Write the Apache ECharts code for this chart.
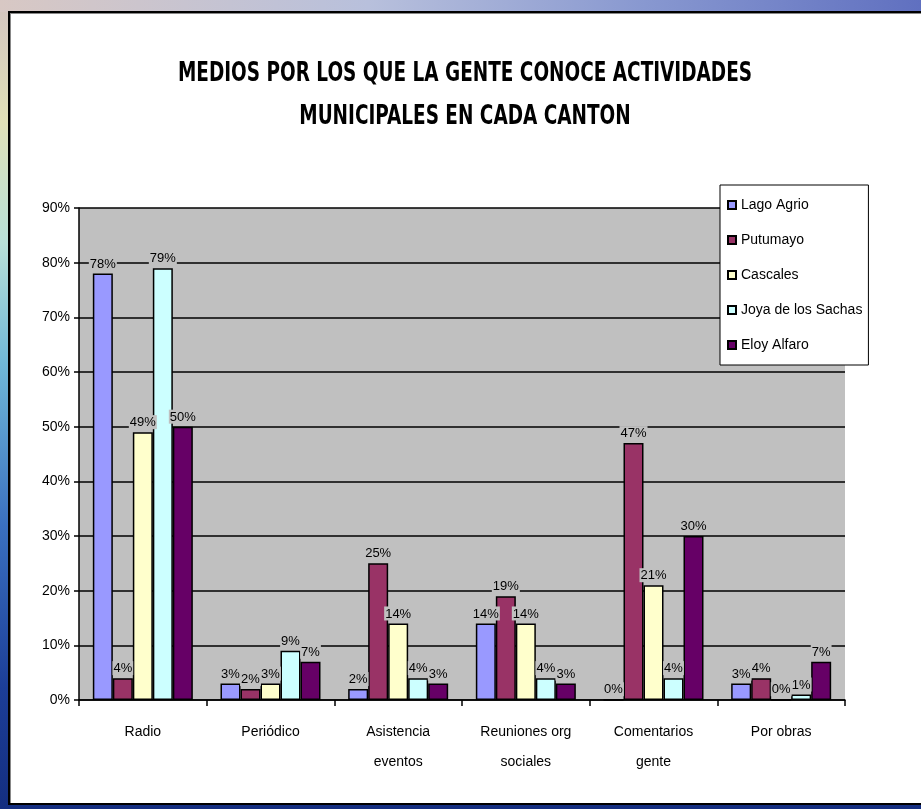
<!DOCTYPE html>
<html>
<head>
<meta charset="utf-8">
<script src="https://cdn.jsdelivr.net/npm/echarts@6/dist/echarts.min.js"></script>
<style>
html,body{margin:0;padding:0;width:921px;height:809px;overflow:hidden;}
body{background:linear-gradient(180deg,#d4c4c0 0%,#e0e0b8 15%,#b8e0d8 30%,#70b8d8 45%,#3a70c0 65%,#1c3e98 85%,#142e80 100%);position:relative;}
#top{position:absolute;left:0;top:0;width:921px;height:12px;background:linear-gradient(90deg,#d8c8c4 0%,#b8c0dc 40%,#8898d0 70%,#6070c0 100%);}
#frame{position:absolute;left:8px;top:11px;width:940px;height:794px;background:#fff;border:2px solid #000;box-sizing:border-box;box-shadow:inset 1px 1px 0 #888;}
#chart{position:absolute;left:0;top:0;width:921px;height:809px;}
</style>
</head>
<body>
<div id="top"></div>
<div id="frame"></div>
<div id="chart"></div>
<script>
const titleLines = ["MEDIOS POR LOS QUE LA GENTE CONOCE ACTIVIDADES", "MUNICIPALES EN CADA CANTON"];
const categories = ["Radio", "Periódico", "Asistencia\neventos", "Reuniones org\nsociales", "Comentarios\ngente", "Por obras"];
const seriesNames = ["Lago Agrio", "Putumayo", "Cascales", "Joya de los Sachas", "Eloy Alfaro"];
const lagoAgrio = [78, 3, 2, 14, 0, 3];
const putumayo = [4, 2, 25, 19, 47, 4];
const cascales = [49, 3, 14, 14, 21, 0];
const joyaSachas = [79, 9, 4, 4, 4, 1];
const eloyAlfaro = [50, 7, 3, 3, 30, 7];
const yTicks = [0, 10, 20, 30, 40, 50, 60, 70, 80, 90];
const colors = ["#9999FF", "#993366", "#FFFFCC", "#CCFFFF", "#660066"];
const seriesData = [lagoAgrio, putumayo, cascales, joyaSachas, eloyAlfaro];

const chart = echarts.init(document.getElementById('chart'), null, {renderer: 'canvas'});
const font = "'Liberation Sans', Arial, sans-serif";
const titleFont = "bold 27px 'DejaVu Sans Condensed', 'DejaVu Sans', sans-serif";
chart.setOption({
  animation: false,
  graphic: titleLines.map((t, i) => ({
    type: 'text', x: 465, y: 74 + i * 43, scaleX: 0.76, z: 10,
    style: {text: t, font: titleFont, fill: '#000', textAlign: 'center', textVerticalAlign: 'middle'}
  })),
  legend: {
    orient: 'vertical', left: 720, top: 185,
    backgroundColor: '#fff', borderColor: '#000', borderWidth: 1,
    padding: [13, 6, 13, 7],
    itemWidth: 8, itemHeight: 8, itemGap: 21,
    icon: 'rect',
    textStyle: {fontFamily: font, fontSize: 14, color: '#000', padding: [0, 0, 0, 0]},
    data: seriesNames
  },
  grid: {left: 79, right: 76, top: 208, bottom: 109, show: true, backgroundColor: '#C0C0C0', borderWidth: 0},
  xAxis: {
    type: 'category', data: categories,
    axisLine: {lineStyle: {color: '#000', width: 1.5}},
    axisTick: {show: true, length: 6, lineStyle: {color: '#000', width: 1.5}},
    axisLabel: {fontFamily: font, fontSize: 14, color: '#000', margin: 17, lineHeight: 30}
  },
  yAxis: {
    type: 'value', min: yTicks[0], max: yTicks[yTicks.length - 1], interval: 10,
    axisLine: {show: true, lineStyle: {color: '#000', width: 1.5}},
    axisTick: {show: true, length: 5, lineStyle: {color: '#000', width: 1.5}},
    axisLabel: {fontFamily: font, fontSize: 14, color: '#000', margin: 9, formatter: v => v + '%'},
    splitLine: {show: true, lineStyle: {color: '#000', width: 1.5}}
  },
  series: seriesNames.map((name, i) => ({
    name, type: 'bar', data: seriesData[i], barWidth: 20, barGap: '0%',
    itemStyle: {color: colors[i], borderColor: '#000', borderWidth: 1.5},
    label: {
      show: true, position: 'top', distance: 3, formatter: p => p.value + '%',
      fontFamily: font, fontSize: 13, color: '#000', backgroundColor: '#C0C0C0', padding: [1, 1, 0, 1]
    }
  }))
});
</script>
</body>
</html>
